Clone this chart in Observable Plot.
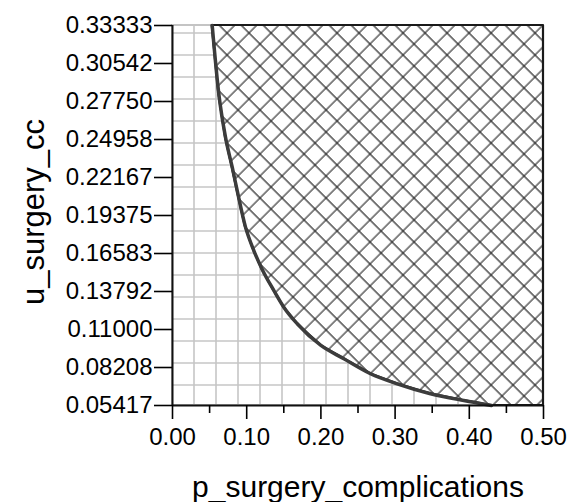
<!DOCTYPE html>
<html>
<head>
<meta charset="utf-8">
<script src="https://cdn.jsdelivr.net/npm/d3@7"></script>
<script src="https://cdn.jsdelivr.net/npm/@observablehq/plot@0.6"></script>
<style>
  html, body { margin: 0; padding: 0; background: #fff; }
  #chart svg { display: block; }
</style>
</head>
<body>
<div id="chart"></div>
<script>
// ---- data ----
const xLabel = "p_surgery_complications";
const yLabel = "u_surgery_cc";
const xTicks = [0, 0.1, 0.2, 0.3, 0.4, 0.5];
const xMinorTicks = [0.05, 0.15, 0.25, 0.35, 0.45];
const yTickLabels = ["0.05417", "0.08208", "0.11000", "0.13792", "0.16583", "0.19375",
                     "0.22167", "0.24958", "0.27750", "0.30542", "0.33333"];
const yTicks = yTickLabels.map(Number);
const xDomain = [0, 0.5];
const yDomain = [yTicks[0], yTicks[yTicks.length - 1]];

// threshold curve
const curveX = [0.0535, 0.0624, 0.0714, 0.0805, 0.0872, 0.0984, 0.1096, 0.1209, 0.1365,
                0.1500, 0.1681, 0.2000, 0.2309, 0.2668, 0.3028, 0.3477, 0.3926, 0.4300];
const curveY = [0.33333, 0.2832, 0.2513, 0.2292, 0.2121, 0.1852, 0.1680, 0.1541, 0.1387,
                0.1264, 0.1142, 0.0983, 0.0885, 0.0775, 0.0701, 0.0628, 0.0578, 0.05417];

// ---- derived tables ----
const yMin = yDomain[0], yMax = yDomain[1];
const curve = curveX.map((x, i) => ({x, y: curveY[i]}));
const lowerRegion = [{x: xDomain[0], y1: yMin, y2: yMax}]
  .concat(curve.map(d => ({x: d.x, y1: yMin, y2: d.y})));
const upperRegion = curve.map(d => ({x: d.x, y1: d.y, y2: yMax}))
  .concat([{x: xDomain[1], y1: yMin, y2: yMax}]);

const font = "'Liberation Sans', Arial, Helvetica, sans-serif";

const svg = Plot.plot({
  width: 568,
  height: 502,
  marginLeft: 172,
  marginRight: 25,
  marginTop: 25,
  marginBottom: 97,
  style: {fontFamily: font, fontSize: "24px", color: "#000", background: "#fff", overflow: "visible"},
  x: {domain: xDomain, label: null},
  y: {domain: yDomain, label: null},
  marks: [
    Plot.areaY(lowerRegion, {x: "x", y1: "y1", y2: "y2", fill: "url(#gridfill)", stroke: "#c4c4c4", strokeWidth: 2}),
    Plot.areaY(upperRegion, {x: "x", y1: "y1", y2: "y2", fill: "url(#hatchfill)", stroke: "#1a1a1a", strokeWidth: 2.2}),
    Plot.line(curve, {x: "x", y: "y", stroke: "#3c3c3c", strokeWidth: 3.5, curve: "monotone-x"}),
    Plot.ruleX([xDomain[0]], {stroke: "#111", strokeWidth: 2}),
    Plot.ruleY([yDomain[0]], {stroke: "#111", strokeWidth: 2}),
    Plot.axisX(xTicks, {tickSize: 14, tickPadding: 8, tickFormat: d3.format(".2f"), fontSize: 24, strokeWidth: 1.6, fill: "#000"}),
    Plot.axisX(xMinorTicks, {tickSize: 8, tickFormat: () => "", strokeWidth: 1.6}),
    Plot.axisY(yTicks, {tickSize: 18, tickPadding: 2, tickFormat: d => yTickLabels[yTicks.indexOf(d)], fontSize: 24, strokeWidth: 1.6, fill: "#000"}),
    Plot.text([xLabel], {frameAnchor: "bottom", textAnchor: "middle", lineAnchor: "bottom", dy: 91, fontSize: 30, fill: "#000"}),
    Plot.text([yLabel], {frameAnchor: "left", textAnchor: "middle", lineAnchor: "bottom", rotate: -90, dx: -129, dy: -3.5, fontSize: 31, fill: "#000"})
  ]
});

// fill patterns (grid for the lower region, cross-hatch for the upper region)
const defs = d3.select(svg).insert("defs", ":first-child");
const gp = defs.append("pattern")
  .attr("id", "gridfill").attr("patternUnits", "userSpaceOnUse")
  .attr("x", 7).attr("y", 0).attr("width", 22).attr("height", 22);
gp.append("rect").attr("width", 22).attr("height", 22).attr("fill", "#fff");
gp.append("path").attr("d", "M11,0V22M0,11H22").attr("stroke", "#c6c6c6").attr("stroke-width", 1.6).attr("fill", "none");

const s = 22 / Math.SQRT2;
const hp = defs.append("pattern")
  .attr("id", "hatchfill").attr("patternUnits", "userSpaceOnUse")
  .attr("width", s).attr("height", s).attr("patternTransform", "rotate(45)");
hp.append("rect").attr("width", s).attr("height", s).attr("fill", "#fff");
const a = 18 / Math.SQRT2, b = 4 / Math.SQRT2;
hp.append("path").attr("d", `M${a},0V${s}M0,${b}H${s}`).attr("stroke", "#1e1e1e").attr("stroke-width", 1.1).attr("fill", "none");

document.getElementById("chart").appendChild(svg);
</script>
</body>
</html>
